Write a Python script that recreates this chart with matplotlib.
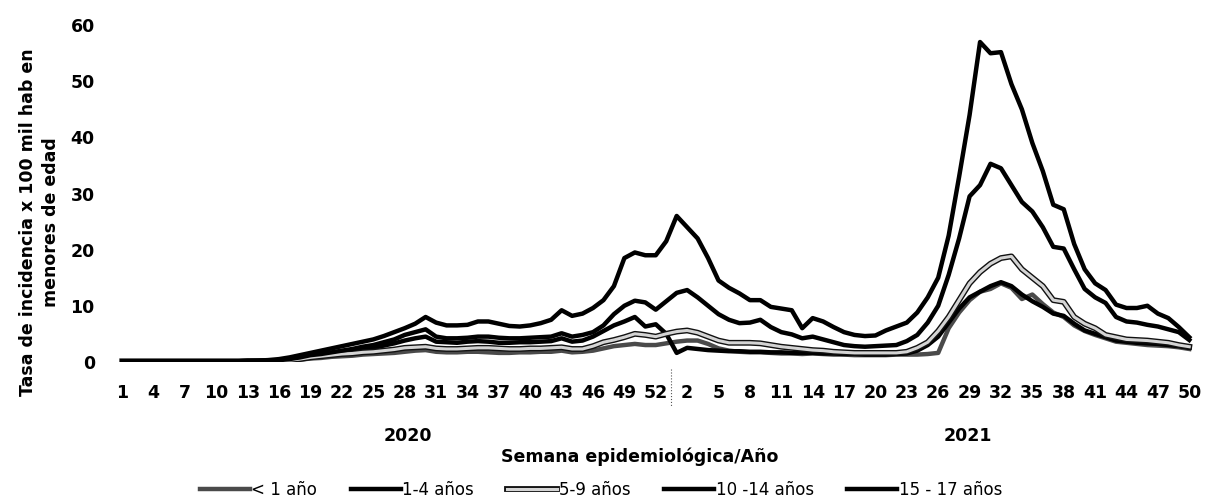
import numpy as np
import matplotlib
matplotlib.use("Agg")
import matplotlib.pyplot as plt
import matplotlib.patheffects as pe
from matplotlib.lines import Line2D

# semanas: 2020 (1-53) y 2021 (1-50)
semanas_2020 = list(range(1, 54))
semanas_2021 = list(range(1, 51))
semanas = semanas_2020 + semanas_2021

menor_1 = [0.1, 0.1, 0.1, 0.1, 0.1, 0.1, 0.1, 0.1, 0.1, 0.1,
           0.1, 0.1, 0.1, 0.1, 0.1, 0.2, 0.3, 0.4, 0.6, 0.7,
           0.9, 1.0, 1.1, 1.3, 1.4, 1.5, 1.6, 1.8, 2.0, 2.1,
           1.8, 1.7, 1.7, 1.8, 1.8, 1.7, 1.6, 1.6, 1.7, 1.7,
           1.8, 1.8, 2.0, 1.7, 1.8, 2.0, 2.4, 2.8, 3.0, 3.2,
           3.0, 3.0, 3.3, 3.6, 3.8, 3.8, 3.2, 2.4, 2.0, 1.8,
           1.7, 1.7, 1.6, 1.5, 1.5, 1.4, 1.5, 1.4, 1.3, 1.3,
           1.2, 1.2, 1.2, 1.2, 1.3, 1.3, 1.3, 1.4, 1.6, 6.0,
           8.8, 11.0, 12.5, 13.0, 14.0, 13.2, 11.2, 12.0, 10.3, 8.8,
           8.0, 6.5, 5.5, 4.8, 4.2, 3.6, 3.4, 3.2, 3.0, 2.9,
           2.8, 2.6, 2.3]

de_1_4 = [0.1, 0.1, 0.1, 0.1, 0.1, 0.1, 0.1, 0.1, 0.1, 0.1,
          0.1, 0.1, 0.1, 0.2, 0.2, 0.3, 0.4, 0.6, 0.9, 1.1,
          1.4, 1.6, 1.9, 2.2, 2.5, 2.9, 3.3, 3.8, 4.2, 4.5,
          3.6, 3.5, 3.4, 3.6, 3.7, 3.6, 3.4, 3.4, 3.5, 3.5,
          3.6, 3.7, 4.2, 3.6, 3.8, 4.5, 5.5, 6.5, 7.2, 8.0,
          6.3, 6.7, 5.0, 1.6, 2.5, 2.3, 2.1, 2.0, 1.9, 1.9,
          1.8, 1.8, 1.7, 1.7, 1.6, 1.6, 1.6, 1.5, 1.5, 1.4,
          1.4, 1.3, 1.3, 1.3, 1.4, 1.5, 2.0, 3.0, 4.5, 7.0,
          9.5, 11.5, 12.5, 13.5, 14.2, 13.5, 12.0, 10.8, 9.8, 8.6,
          8.2, 6.8, 5.6, 5.0, 4.4, 3.8, 3.6, 3.4, 3.3, 3.2,
          3.0, 2.8, 2.5]

de_5_9 = [0.1, 0.1, 0.1, 0.1, 0.1, 0.1, 0.1, 0.1, 0.1, 0.1,
          0.1, 0.1, 0.1, 0.1, 0.2, 0.2, 0.3, 0.5, 0.8, 1.0,
          1.2, 1.4, 1.5, 1.7, 1.8, 2.0, 2.2, 2.5, 2.6, 2.7,
          2.4, 2.3, 2.3, 2.4, 2.5, 2.5, 2.4, 2.3, 2.3, 2.4,
          2.4, 2.5, 2.6, 2.3, 2.3, 2.8, 3.5, 3.9, 4.4, 5.0,
          4.8, 4.5, 5.0, 5.4, 5.6, 5.2, 4.5, 3.8, 3.4, 3.4,
          3.4, 3.3, 3.0, 2.7, 2.5, 2.3, 2.1, 2.0, 1.8, 1.7,
          1.6, 1.6, 1.6, 1.6, 1.6, 1.8, 2.5, 3.5, 5.5, 8.0,
          11.0, 14.0, 16.0, 17.5, 18.5, 18.8, 16.5, 15.0, 13.5, 11.0,
          10.7, 8.0, 6.8, 6.0, 4.8, 4.4, 4.0, 3.9, 3.8, 3.6,
          3.4, 3.0, 2.7]

de_10_14 = [0.1, 0.1, 0.1, 0.1, 0.1, 0.1, 0.1, 0.1, 0.1, 0.1,
            0.1, 0.1, 0.2, 0.2, 0.2, 0.3, 0.5, 0.8, 1.2, 1.4,
            1.7, 2.0, 2.3, 2.7, 3.0, 3.5, 4.0, 4.8, 5.3, 5.8,
            4.5, 4.2, 4.2, 4.3, 4.5, 4.5, 4.3, 4.2, 4.2, 4.3,
            4.4, 4.5, 5.1, 4.5, 4.8, 5.3, 6.5, 8.5, 10.0, 10.9,
            10.6, 9.3, 10.8, 12.3, 12.8, 11.5, 10.0, 8.5, 7.5, 6.9,
            7.0, 7.5, 6.2, 5.3, 4.9, 4.2, 4.5, 4.0, 3.5, 3.0,
            2.8, 2.7, 2.8, 2.9, 3.0, 3.7, 4.8, 7.0, 10.0, 15.5,
            22.0, 29.5, 31.5, 35.3, 34.5, 31.5, 28.5, 26.8, 24.0, 20.5,
            20.2, 16.5, 13.0, 11.5, 10.5, 8.0, 7.2, 7.0, 6.6, 6.3,
            5.8, 5.3, 3.9]

de_15_17 = [0.1, 0.1, 0.1, 0.1, 0.1, 0.1, 0.1, 0.1, 0.1, 0.1,
            0.1, 0.1, 0.2, 0.2, 0.3, 0.5, 0.8, 1.2, 1.6, 2.0,
            2.4, 2.8, 3.2, 3.6, 4.0, 4.6, 5.3, 6.0, 6.8, 8.0,
            7.0, 6.5, 6.5, 6.6, 7.2, 7.2, 6.8, 6.4, 6.3, 6.5,
            6.9, 7.5, 9.2, 8.2, 8.6, 9.6, 11.0, 13.5, 18.5, 19.5,
            19.0, 19.0, 21.5, 26.0, 24.0, 22.0, 18.5, 14.5, 13.2, 12.2,
            11.0, 11.0, 9.8, 9.5, 9.2, 6.0, 7.8, 7.2, 6.2, 5.3,
            4.8, 4.6, 4.7, 5.6, 6.3, 7.0, 8.8, 11.5, 15.0, 22.5,
            33.0, 44.0, 57.0, 55.0, 55.2, 49.5, 45.0, 39.0, 34.0, 28.0,
            27.2, 21.0, 16.5, 14.0, 12.8, 10.2, 9.6, 9.6, 10.0, 8.6,
            7.8, 6.2, 4.4]

etiquetas = ["< 1 año", "1-4 años", "5-9 años", "10 -14 años", "15 - 17 años"]
series = [menor_1, de_1_4, de_5_9, de_10_14, de_15_17]
colores = ["#4a4a4a", "#000000", "#d4d4d4", "#000000", "#000000"]

x = np.arange(1, len(semanas) + 1)

plt.rcParams['font.family'] = ['DejaVu Sans']
fig = plt.figure(figsize=(12.09, 5.04), dpi=100)
ax = fig.add_axes([0.0968, 0.282, 0.8912, 0.668])

for vals, lab, col in zip(series, etiquetas, colores):
    if col == "#d4d4d4":
        efectos = [pe.Stroke(linewidth=4.2, foreground="#111111"), pe.Normal()]
        ax.plot(x, vals, color=col, linewidth=2.2, label=lab,
                path_effects=efectos, solid_joinstyle='round')
    else:
        ax.plot(x, vals, color=col, linewidth=3.2, label=lab,
                solid_joinstyle='round')

ax.set_xlim(0.5, len(semanas) + 0.5)
ax.set_ylim(0, 60)
ax.set_yticks([0, 10, 20, 30, 40, 50, 60])
ticks = x[::3]
ax.set_xticks(ticks)
ax.set_xticklabels([str(semanas[t - 1]) for t in ticks])
for s in ax.spines.values():
    s.set_visible(False)
ax.tick_params(axis='both', length=0, labelsize=12.5)
ax.tick_params(axis='x', pad=16)
ax.tick_params(axis='y', pad=16)
for t in ax.get_xticklabels() + ax.get_yticklabels():
    t.set_fontweight('bold')

# separador de años
ax.add_line(Line2D([53.5, 53.5], [-0.02, -0.13], transform=ax.get_xaxis_transform(),
                   color='#555555', linestyle=':', linewidth=0.8, clip_on=False))

ax.text(28.3, -0.22, "2020", transform=ax.get_xaxis_transform(), ha='center',
        va='center', fontsize=12.5, fontweight='bold')
ax.text(81.8, -0.22, "2021", transform=ax.get_xaxis_transform(), ha='center',
        va='center', fontsize=12.5, fontweight='bold')
fig.text(0.529, 0.093, "Semana epidemiológica/Año", ha='center', va='center',
         fontsize=12.5, fontweight='bold')
fig.text(0.033, 0.56, "Tasa de incidencia x 100 mil hab en\nmenores de edad",
         rotation=90, ha='center', va='center', fontsize=12.5, fontweight='bold',
         linespacing=1.35, multialignment='center')

ax.legend(loc='center', bbox_to_anchor=(0.497, 0.028), bbox_transform=fig.transFigure,
          ncol=5, frameon=False, fontsize=12, handlelength=3.0, handletextpad=0.1,
          columnspacing=2.0)

fig.savefig("out.png", dpi=100)
